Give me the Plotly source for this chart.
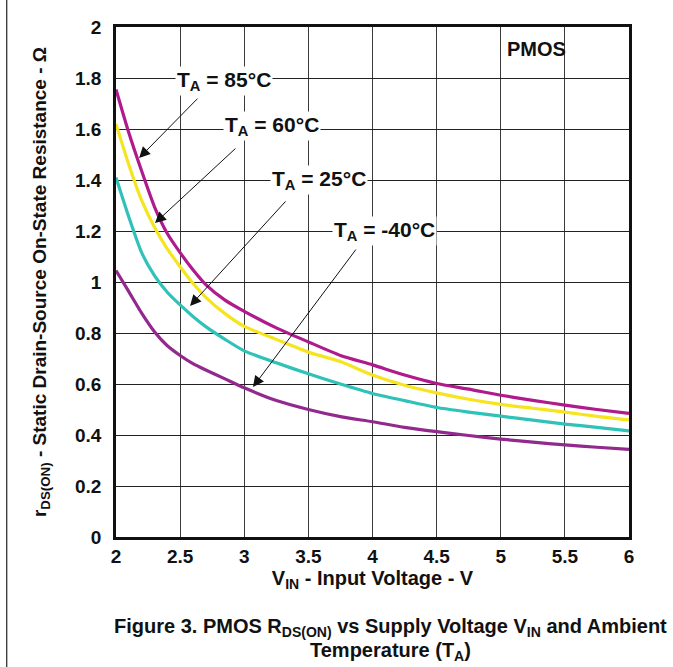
import plotly.graph_objects as go

v_in = [2.0, 2.1, 2.2, 2.3, 2.4, 2.5, 2.6, 2.7, 2.85, 3.0, 3.25, 3.5, 3.75, 4.0, 4.25, 4.5, 4.75, 5.0, 5.25, 5.5, 5.75, 6.0]
r_85 = [1.755, 1.585, 1.435, 1.295, 1.19, 1.115, 1.048, 0.99, 0.929, 0.885, 0.82, 0.765, 0.712, 0.675, 0.635, 0.602, 0.58, 0.556, 0.536, 0.517, 0.50, 0.485]
r_60 = [1.62, 1.46, 1.32, 1.215, 1.13, 1.06, 0.995, 0.94, 0.876, 0.826, 0.775, 0.725, 0.688, 0.635, 0.595, 0.565, 0.54, 0.52, 0.505, 0.49, 0.473, 0.459]
r_25 = [1.41, 1.255, 1.115, 1.025, 0.96, 0.91, 0.865, 0.825, 0.775, 0.73, 0.683, 0.64, 0.60, 0.563, 0.535, 0.508, 0.49, 0.474, 0.458, 0.443, 0.43, 0.416]
r_m40 = [1.045, 0.962, 0.878, 0.805, 0.75, 0.712, 0.68, 0.655, 0.62, 0.585, 0.535, 0.50, 0.472, 0.452, 0.43, 0.413, 0.398, 0.384, 0.372, 0.361, 0.352, 0.344]

series_names = ["T<sub>A</sub> = 85°C", "T<sub>A</sub> = 60°C", "T<sub>A</sub> = 25°C", "T<sub>A</sub> = -40°C"]
series_vals = [r_85, r_60, r_25, r_m40]
colors = ["#B01A8C", "#F6E51E", "#2EC2B8", "#922A8E"]

x_ticks = [2, 2.5, 3, 3.5, 4, 4.5, 5, 5.5, 6]
x_tick_text = ["2", "2.5", "3", "3.5", "4", "4.5", "5", "5.5", "6"]
y_ticks = [0, 0.2, 0.4, 0.6, 0.8, 1, 1.2, 1.4, 1.6, 1.8, 2]
y_tick_text = ["0", "0.2", "0.4", "0.6", "0.8", "1", "1.2", "1.4", "1.6", "1.8", "2"]

FONT = "Liberation Sans, Arial, sans-serif"
INK = "#111111"

def bfont(size):
    return dict(family=FONT, size=size, color=INK, weight="bold")

fig = go.Figure()
for name, vals, c in zip(series_names, series_vals, colors):
    fig.add_trace(go.Scatter(x=v_in, y=vals, mode="lines", name=name,
                             line=dict(color=c, width=3.2, shape="spline", smoothing=0.6),
                             showlegend=False))

# label positions (data coords) and arrow tip/tail
labels = [
    dict(text=series_names[0], x=2.84, y=1.79, tip=(2.18, 1.486), tail=(2.647, 1.725)),
    dict(text=series_names[1], x=3.22, y=1.61, tip=(2.304, 1.231), tail=(2.943, 1.529)),
    dict(text=series_names[2], x=3.58, y=1.40, tip=(2.577, 0.906), tail=(3.333, 1.322)),
    dict(text=series_names[3], x=4.09, y=1.20, tip=(3.068, 0.588), tail=(3.879, 1.133)),
]
for lb in labels:
    fig.add_annotation(x=lb["tip"][0], y=lb["tip"][1], ax=lb["tail"][0], ay=lb["tail"][1],
                       xref="x", yref="y", axref="x", ayref="y", text="",
                       showarrow=True, arrowhead=2, arrowsize=2.2, arrowwidth=1,
                       arrowcolor=INK)
    fig.add_annotation(x=lb["x"], y=lb["y"], xref="x", yref="y", text=lb["text"],
                       showarrow=False, bgcolor="white", borderpad=1, font=bfont(21))

fig.add_annotation(x=5.28, y=1.915, xref="x", yref="y", text="PMOS", showarrow=False,
                   font=bfont(20))

fig.add_annotation(x=0.535, y=-0.205, xref="paper", yref="paper",
                   text="Figure 3. PMOS R<sub>DS(ON)</sub> vs Supply Voltage V<sub>IN</sub> and Ambient",
                   showarrow=False, font=bfont(20))
fig.add_annotation(x=0.535, y=-0.252, xref="paper", yref="paper",
                   text="Temperature (T<sub>A</sub>)",
                   showarrow=False, font=bfont(20))

# page left border line
fig.add_shape(type="line", xref="paper", yref="paper", x0=-0.213, x1=-0.213, y0=-0.26, y1=1.053,
              line=dict(color="#222222", width=1.2), layer="above")

fig.update_xaxes(range=[2, 6], tickvals=x_ticks, ticktext=x_tick_text,
                 showgrid=True, gridcolor="#3a3a3a", gridwidth=1,
                 showline=True, linecolor=INK, linewidth=2.5, mirror=True,
                 ticks="", tickfont=bfont(19), automargin=False,
                 title=dict(text="V<sub>IN</sub> - Input Voltage - V", font=bfont(20), standoff=4),
                 zeroline=False)
fig.update_yaxes(range=[0, 2], tickvals=y_ticks, ticktext=y_tick_text,
                 showgrid=True, gridcolor="#222222", gridwidth=1.3,
                 showline=True, linecolor=INK, linewidth=2.5, mirror=True,
                 ticks="", ticklabelstandoff=8, tickfont=bfont(19), automargin=False,
                 title=dict(text="r<sub>DS(ON)</sub> - Static Drain-Source On-State Resistance - Ω",
                            font=bfont(19), standoff=24),
                 zeroline=False)

fig.update_layout(width=673, height=667, margin=dict(l=116, r=44, t=27, b=130, autoexpand=False),
                  paper_bgcolor="white", plot_bgcolor="white",
                  font=dict(family=FONT, color=INK))

fig.write_html("out.html", config={"displayModeBar": False},
               post_script="document.body.style.margin='0px';")
